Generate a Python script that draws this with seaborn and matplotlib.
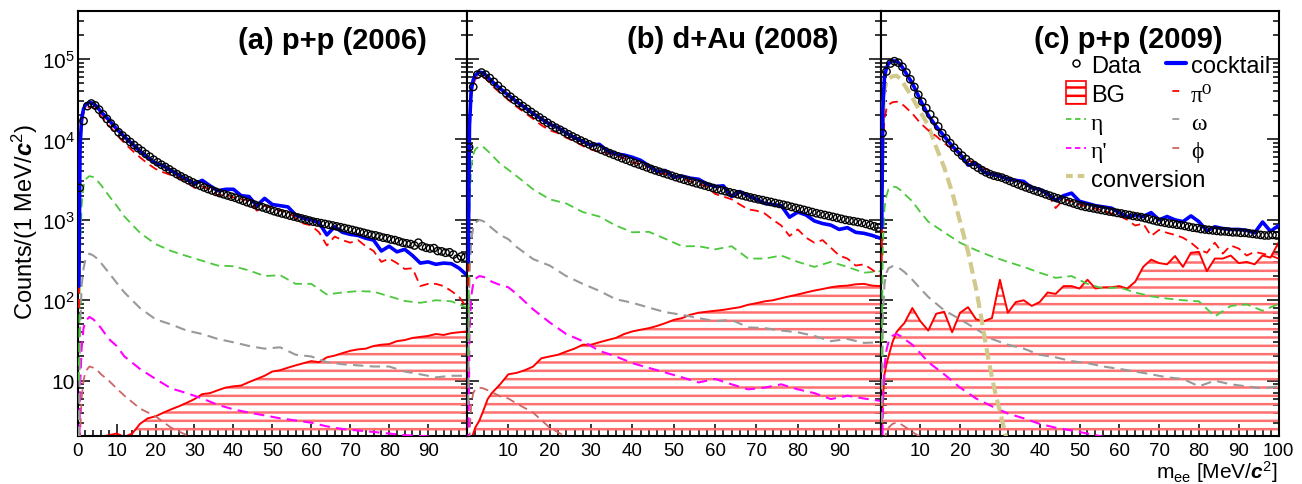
import numpy as np
import matplotlib
matplotlib.use("Agg")
import matplotlib.pyplot as plt
import seaborn as sns
from matplotlib.ticker import MultipleLocator, LogLocator, FixedLocator, FixedFormatter, NullFormatter
from matplotlib.lines import Line2D
from matplotlib.patches import Patch

# x grids (MeV/c^2)
m_data = np.arange(0.5, 100, 1.0)
m_fine = [0.3, 0.6, 1, 1.5, 2, 3, 4, 5, 6] + list(range(8, 101, 2))
m_coarse = [0.3, 0.6, 1, 1.5, 2, 3, 4, 5, 6, 8, 10, 12] + list(range(16, 101, 4))
m_phi = m_coarse[:17]
m_conv = [0.3, 0.6, 1, 1.5, 2, 3, 4, 5, 6, 8, 10, 12, 14, 16, 18, 20, 22, 24,
          25, 26, 27, 28, 29, 30, 31, 32]

# ---------------- (a) p+p (2006) ----------------
data_a = [2500, 17000, 26000, 28000, 26500, 23500, 20500, 18000, 15800, 14000,
          12300, 11200, 10200, 9300, 8500, 7800, 7200, 6600, 6100, 5600,
          5200, 4850, 4550, 4250, 3950, 3700, 3480, 3280, 3100, 2930,
          2780, 2650, 2530, 2420, 2320, 2230, 2150, 2080, 2010, 1940,
          1880, 1800, 1730, 1660, 1600, 1540, 1480, 1430, 1380, 1330,
          1280, 1240, 1200, 1170, 1130, 1100, 1070, 1040, 1010, 980,
          950, 930, 910, 890, 870, 850, 830, 810, 790, 770,
          750, 730, 710, 690, 670, 650, 640, 620, 600, 590,
          570, 560, 540, 520, 510, 500, 480, 520, 470, 450,
          440, 445, 410, 405, 390, 395, 370, 330, 350, 340]
cocktail_a = [150, 8000, 18000, 24000, 27000, 29000, 28000, 25500, 22000,
              17500, 13500, 10800, 8800, 7200, 6000, 5100, 4700, 4100, 3600,
              3200, 2800, 3100, 2650, 2300, 2400, 2400, 2000, 1950, 1500,
              1850, 1550, 1500, 1450, 1150, 1050, 1000, 920, 650, 820,
              700, 660, 640, 590, 560, 410, 470, 400, 430, 360,
              290, 300, 280, 290, 285, 250, 205]
pi0_a = [80, 6000, 15000, 21000, 24000, 25500, 25000, 22500, 19500,
         15000, 11500, 9000, 7300, 6000, 5000, 4300, 3900, 3600, 3300,
         3000, 2500, 2600, 2400, 2000, 2100, 1900, 1800, 1750, 1300,
         1500, 1400, 1300, 1250, 1050, 900, 850, 700, 480, 620,
         560, 520, 560, 470, 410, 300, 330, 290, 245, 250,
         150, 160, 160, 150, 130, 110, 80]
bg_a = [2, 2, 2, 2, 2, 2, 2, 2, 2,
        2.1, 2.2, 2.0, 2.2, 2.9, 3.4, 3.6, 4.0, 4.4, 4.8,
        5.3, 5.9, 6.8, 7.0, 7.6, 8.2, 8.5, 8.7, 9.6, 10.5,
        11.5, 13.0, 13.5, 14.5, 15.5, 16.5, 17.5, 17.0, 19.5, 20.5,
        22.0, 23.5, 24.5, 25.0, 27.0, 28.0, 28.5, 31.0, 32.0, 34.0,
        35.0, 36.0, 38.0, 37.0, 39.0, 40.0, 41.0]
eta_a = [10, 400, 1500, 2600, 3200, 3500, 3400, 3100, 2700, 2000, 1500, 1100,
         690, 500, 410, 355, 310, 270, 265, 235, 200, 205, 160, 160, 118, 125,
         130, 128, 112, 98, 93, 100, 97, 81]
omega_a = [2, 40, 150, 250, 320, 380, 360, 330, 290, 220, 165, 125,
           80, 58, 50, 42, 38, 33, 30, 27, 25, 26, 21, 20, 17, 16,
           15.5, 15, 15, 13, 12, 11, 11.5, 11.5]
etap_a = [0.5, 8, 25, 45, 55, 62, 58, 52, 45, 33, 27, 20,
          14, 10.5, 8, 7, 6, 5, 4.4, 4.0, 3.7, 3.4, 3.2, 3.0, 2.7, 2.5,
          2.4, 2.3, 2.2, 2.1, 2.05, 2.0, 1.95, 1.9]
phi_a = [0.1, 2, 6, 10, 13, 15, 14.5, 13.5, 12, 10, 8, 6.5, 4.5, 3.6, 2.6, 2.1, 1.7]

# ---------------- (b) d+Au (2008) ----------------
data_b = [8000, 45000, 64000, 68000, 64000, 58000, 52000, 46500, 41500, 37500,
          34000, 31000, 28500, 26000, 24000, 22000, 20300, 18800, 17400, 16100,
          15000, 14000, 13200, 12400, 11600, 10900, 10300, 9700, 9200, 8700,
          8250, 7850, 7450, 7100, 6750, 6450, 6150, 5850, 5600, 5350,
          5100, 4900, 4700, 4500, 4300, 4130, 3970, 3820, 3680, 3540,
          3400, 3280, 3160, 3050, 2950, 2850, 2760, 2670, 2580, 2490,
          2410, 2340, 2270, 2200, 2140, 2080, 2020, 1960, 1900, 1850,
          1800, 1760, 1710, 1670, 1620, 1580, 1540, 1500, 1450, 1410,
          1370, 1330, 1290, 1250, 1210, 1180, 1150, 1120, 1090, 1060,
          1030, 1000, 980, 960, 940, 920, 890, 860, 830, 800]
cocktail_b = [300, 15000, 40000, 55000, 63000, 69000, 67000, 60000, 53000,
              43000, 35500, 29500, 25000, 21000, 18000, 15500, 14000, 12000, 10500,
              9500, 8500, 8700, 7200, 6600, 6400, 6000, 5500, 4700, 4000,
              4100, 3400, 3500, 3300, 3200, 2800, 2600, 2650, 1950, 2250,
              2000, 1800, 1600, 1550, 1500, 1080, 1250, 1150, 970, 900,
              860, 760, 800, 700, 680, 640, 590]
pi0_b = [150, 10000, 33000, 48000, 56000, 62000, 60000, 54000, 47000,
         38000, 31000, 25500, 21500, 18000, 15000, 13000, 12000, 10500, 9500,
         8300, 7500, 7000, 6800, 6300, 5800, 5200, 4900, 4500, 3900,
         3700, 3400, 3300, 3000, 2800, 2600, 2100, 1950, 1800, 1550,
         1350, 1300, 1200, 1000, 850, 630, 760, 600, 520, 560,
         450, 360, 330, 270, 280, 240, 200]
bg_b = [1.0, 1.5, 1.8, 2.2, 2.6, 3.2, 4.3, 5.9, 7.0,
        9.0, 12, 12.5, 13.5, 15, 19, 20, 21, 23, 25,
        28, 28, 30, 32, 34, 38, 41, 43, 45, 48,
        52, 57, 60, 66, 70, 72, 74, 76, 79, 82,
        88, 92, 97, 100, 106, 112, 118, 125, 132, 138,
        145, 150, 152, 158, 160, 152, 150]
eta_b = [20, 1500, 4500, 6500, 7500, 8300, 8000, 7200, 6400, 5000, 4200, 3500,
         2400, 1800, 1600, 1250, 1100, 850, 700, 710, 580, 470, 470, 430, 470, 330,
         330, 360, 300, 260, 300, 260, 220, 230]
omega_b = [5, 200, 550, 800, 920, 1000, 960, 880, 790, 650, 575, 460,
           325, 270, 200, 160, 131, 103, 93, 81, 71, 66, 60, 55, 57, 46,
           45, 42, 40, 36, 31, 33, 29.5, 30]
etap_b = [1, 40, 110, 160, 185, 200, 195, 185, 170, 155, 145, 120,
          77, 53, 38, 31, 23.5, 20, 16.5, 14.4, 12.6, 11, 9.5, 10.5, 9, 7.8,
          8.2, 9, 7.8, 7, 5.9, 6.5, 6, 5.6]
phi_b = [0.1, 2, 5, 7, 7.8, 8.2, 8, 7.6, 7.2, 6.4, 6.0, 5.2, 4.0, 2.6, 2.0, 1.6, 1.3]

# ---------------- (c) p+p (2009) ----------------
data_c = [12000, 70000, 88000, 94000, 90000, 80000, 68000, 56000, 45000, 36000,
          29500, 24500, 20500, 17200, 14500, 12000, 10300, 9000, 7900, 7000,
          6300, 5700, 5200, 4800, 4450, 4150, 3900, 3700, 3550, 3450,
          3350, 3200, 3050, 2900, 2770, 2650, 2540, 2440, 2340, 2250,
          2170, 2080, 2000, 1920, 1850, 1780, 1720, 1660, 1600, 1540,
          1490, 1450, 1420, 1390, 1360, 1330, 1300, 1270, 1250, 1220,
          1200, 1170, 1150, 1120, 1100, 1080, 1050, 1020, 990, 960,
          940, 920, 900, 890, 870, 860, 840, 820, 800, 790,
          770, 760, 750, 740, 730, 720, 720, 710, 700, 700,
          690, 690, 680, 670, 660, 650, 640, 640, 650, 640]
cocktail_c = [800, 25000, 60000, 78000, 88000, 95000, 94000, 86000, 72000,
              50000, 31000, 20000, 14500, 11000, 8300, 6600, 4800, 5000, 3900,
              3700, 3500, 3200, 3100, 3000, 2500, 2400, 2100, 1750, 2000,
              2150, 1700, 1600, 1500, 1450, 1400, 1230, 1100, 1150, 1100,
              1230, 1000, 1100, 1000, 950, 1120, 950, 730, 820, 780,
              760, 760, 740, 690, 940, 720, 850]
pi0_c = [300, 8000, 18000, 24000, 27000, 29000, 29500, 28500, 26000,
         21000, 16000, 13000, 11000, 9000, 7600, 6500, 5600, 4900, 4400,
         4000, 3600, 3200, 3000, 2800, 2600, 2350, 2150, 1400, 1800,
         1700, 1550, 1450, 1380, 1300, 1200, 1120, 1000, 850, 900,
         630, 750, 690, 650, 600, 520, 430, 390, 520, 380,
         480, 440, 360, 400, 380, 360, 330]
bg_c = [2.5, 6, 12, 16, 20, 30, 40, 46, 52,
        80, 55, 42, 68, 72, 40, 70, 82, 58, 55,
        60, 180, 70, 95, 100, 85, 95, 125, 120, 150,
        150, 140, 180, 140, 145, 145, 150, 140, 170, 260,
        320, 290, 280, 355, 260, 390, 400, 230, 330, 330,
        360, 290, 300, 280, 360, 340, 520]
eta_c = [20, 500, 1400, 2000, 2400, 2600, 2550, 2350, 2100, 1700, 1250, 950,
         700, 520, 420, 350, 300, 260, 220, 190, 200, 160, 140, 145, 125, 112,
         105, 100, 97, 63, 85, 89, 74, 90]
omega_c = [3, 60, 160, 220, 250, 265, 260, 245, 225, 180, 140, 110,
           75, 58, 44, 33, 28, 25, 21, 19.5, 17.5, 16.5, 15, 14, 13, 12,
           11, 10.5, 8.5, 10, 9, 8.5, 8, 8.5]
etap_c = [0.3, 5, 15, 24, 30, 36, 38, 36, 33, 28, 22, 17,
          12, 8.2, 6, 4.8, 3.9, 3.4, 2.9, 2.6, 2.4, 2.2, 2.0, 1.8, 1.7, 1.6,
          1.5, 1.4, 1.3, 1.2, 1.1, 1.0, 1.0, 0.9]
phi_c = [0.1, 1, 1.8, 2.3, 2.6, 2.9, 3.0, 2.9, 2.7, 2.3, 2.0, 1.7, 1.3, 1.0, 0.8, 0.7, 0.6]
conv_c = [3000, 20000, 42000, 52000, 57000, 61000, 62000, 57000, 48000, 33000,
          22000, 15000, 8000, 4500, 2200, 950, 400, 140, 75, 38, 20, 11, 6.5,
          4.2, 2.6, 1.6]

titles = ["(a) p+p (2006)", "(b) d+Au (2008)", "(c) p+p (2009)"]

# colours
C_DATA = "black"
C_COCK = "#0000ff"
C_PI0 = "#ff0000"
C_ETA = "#4cc83c"
C_OMEGA = "#999999"
C_ETAP = "#ff00ff"
C_PHI = "#cc6666"
C_CONV = "#d2c98c"
C_BG = "#ff0000"
C_HATCH = "#ff7070"

sns.set_style("ticks")
plt.rcParams["font.family"] = ["Liberation Sans", "DejaVu Sans"]
plt.rcParams["mathtext.fontset"] = "custom"
plt.rcParams["mathtext.rm"] = "Liberation Sans"
plt.rcParams["mathtext.it"] = "Liberation Sans:italic"
plt.rcParams["mathtext.bf"] = "Liberation Sans:bold"
plt.rcParams["mathtext.bfit"] = "Liberation Sans:bold:italic"
plt.rcParams["hatch.linewidth"] = 1.8
for key in ["text.color", "axes.labelcolor", "xtick.color", "ytick.color",
            "axes.edgecolor"]:
    plt.rcParams[key] = "black"

fig = plt.figure(figsize=(13.02, 4.85), dpi=100)
W, H = 1302.0, 485.0
bottom = 1 - 437 / H
height = 425 / H
edges = [77.7, 467.0, 880.5, 1278.5]
axes = [fig.add_axes([edges[i] / W, bottom, (edges[i + 1] - edges[i]) / W, height])
        for i in range(3)]

DASH = (0, (5, 3))


def draw_panel(ax, data, cocktail, pi0, eta, omega, etap, phi, bg, conv=None):
    ax.fill_between(m_fine, 0.1, bg, facecolor="none", edgecolor=C_HATCH,
                    hatch="--", linewidth=0, zorder=1)
    sns.lineplot(x=m_fine, y=bg, ax=ax, color=C_BG, lw=1.4, zorder=2)
    sns.lineplot(x=m_phi, y=phi, ax=ax, color=C_PHI, lw=1.3, linestyle=DASH, zorder=3)
    sns.lineplot(x=m_coarse, y=etap, ax=ax, color=C_ETAP, lw=1.5, linestyle=DASH, zorder=3)
    sns.lineplot(x=m_coarse, y=omega, ax=ax, color=C_OMEGA, lw=1.5, linestyle=DASH, zorder=3)
    sns.lineplot(x=m_coarse, y=eta, ax=ax, color=C_ETA, lw=1.3, linestyle=DASH, zorder=3)
    if conv is not None:
        sns.lineplot(x=m_conv, y=conv, ax=ax, color=C_CONV, lw=3.0,
                     linestyle=(0, (2.8, 1.4)), zorder=3)
    sns.lineplot(x=m_fine, y=pi0, ax=ax, color=C_PI0, lw=1.3, linestyle=DASH, zorder=4)
    sns.lineplot(x=m_fine, y=cocktail, ax=ax, color=C_COCK, lw=2.6, zorder=5)
    sns.scatterplot(x=m_data, y=data, ax=ax, marker="o", s=28, facecolors="none",
                    edgecolor=C_DATA, linewidth=1.0, zorder=6)


panels = [
    (data_a, cocktail_a, pi0_a, eta_a, omega_a, etap_a, phi_a, bg_a, None),
    (data_b, cocktail_b, pi0_b, eta_b, omega_b, etap_b, phi_b, bg_b, None),
    (data_c, cocktail_c, pi0_c, eta_c, omega_c, etap_c, phi_c, bg_c, conv_c),
]

xlabels = [
    ["0", "10", "20", "30", "40", "50", "60", "70", "80", "90", ""],
    ["", "10", "20", "30", "40", "50", "60", "70", "80", "90", ""],
    ["", "10", "20", "30", "40", "50", "60", "70", "80", "90", "100"],
]

for i, (ax, p) in enumerate(zip(axes, panels)):
    draw_panel(ax, *p)
    ax.set_yscale("log")
    ax.set_xlim(0, 100)
    ax.set_ylim(2.05, 3.96e5)
    ax.set_xlabel("")
    ax.set_ylabel("")
    ax.xaxis.set_major_locator(FixedLocator(range(0, 101, 10)))
    ax.xaxis.set_major_formatter(FixedFormatter(xlabels[i]))
    ax.xaxis.set_minor_locator(MultipleLocator(2))
    ax.yaxis.set_major_locator(LogLocator(base=10))
    ax.yaxis.set_minor_locator(LogLocator(base=10, subs=np.arange(2, 10)))
    ax.yaxis.set_minor_formatter(NullFormatter())
    if i == 0:
        ax.yaxis.set_major_formatter(plt.FuncFormatter(
            lambda v, pos: "10" if abs(v - 10) < 1e-6 else r"$10^{%d}$" % round(np.log10(v))))
    else:
        ax.yaxis.set_major_formatter(NullFormatter())
    ax.tick_params(which="both", direction="in", top=False, right=True, width=1.1,
                   color="black", labelcolor="black")
    ax.tick_params(which="major", length=8.5)
    ax.tick_params(which="minor", length=4.3)
    ax.tick_params(axis="x", labelsize=13.5, pad=4)
    ax.tick_params(axis="y", labelsize=15, pad=2)
    for s in ax.spines.values():
        s.set_linewidth(1.5)
        s.set_color("black")
        s.set_visible(True)
    ax.set_facecolor("white")

# panel titles
title_pos = [(427, 41), (838, 40), (1223, 40)]
for t, (px, py) in zip(titles, title_pos):
    fig.text(px / W, 1 - py / H, t, ha="right", va="center", fontsize=21,
             fontweight="bold")

fig.text(0.019, 1 - 222 / H, r"Counts/(1 MeV/$\mathbfit{c}^{2}$)", rotation=90,
         ha="center", va="center", fontsize=17)
fig.text(1277 / W, 1 - 472 / H, r"m$_{\rm ee}$ [MeV/$\mathbfit{c}^{2}$]",
         ha="right", va="center", fontsize=15)

# legend (two independent columns as in the original)
h_data = Line2D([], [], marker="o", ls="none", mfc="none", mec=C_DATA, ms=5, mew=1.1)
h_bg = Patch(facecolor="none", edgecolor=C_BG, hatch="--", lw=1.2)
h_eta = Line2D([], [], color=C_ETA, lw=1.3, ls=(0, (3, 2)))
h_etap = Line2D([], [], color=C_ETAP, lw=1.3, ls=(0, (3, 2)))
h_conv = Line2D([], [], color=C_CONV, lw=3, ls=(0, (1.6, 1.2)))
h_cock = Line2D([], [], color=C_COCK, lw=3)
SHORT = (12.3, (3.8, 12))
h_pi0 = Line2D([], [], color=C_PI0, lw=1.3, ls=SHORT)
h_omega = Line2D([], [], color=C_OMEGA, lw=1.3, ls=SHORT)
h_phi = Line2D([], [], color=C_PHI, lw=1.3, ls=SHORT)

lax = axes[2]
leg_kw = dict(frameon=False, fontsize=17, handlelength=0.85, handleheight=1.1,
              handletextpad=0.2, labelspacing=0.17, borderpad=0, borderaxespad=0,
              bbox_transform=fig.transFigure, loc="upper left")
leg1 = lax.legend([h_data, h_bg, h_eta, h_etap, h_conv],
                  ["Data", "BG", "η", "η'", "conversion"],
                  bbox_to_anchor=(1066 / W, 1 - 54 / H), **leg_kw)
lax.add_artist(leg1)
leg2 = lax.legend([h_cock, h_pi0, h_omega, h_phi],
                  ["cocktail", "π⁰", "ω", "ϕ"],
                  bbox_to_anchor=(1166 / W, 1 - 54 / H), **leg_kw)
serif = ["Liberation Serif", "DejaVu Serif"]
for leg, idx in ((leg1, [2, 3]), (leg2, [1, 2, 3])):
    for j in idx:
        leg.get_texts()[j].set_fontfamily(serif)

fig.savefig("out.png", dpi=100)
